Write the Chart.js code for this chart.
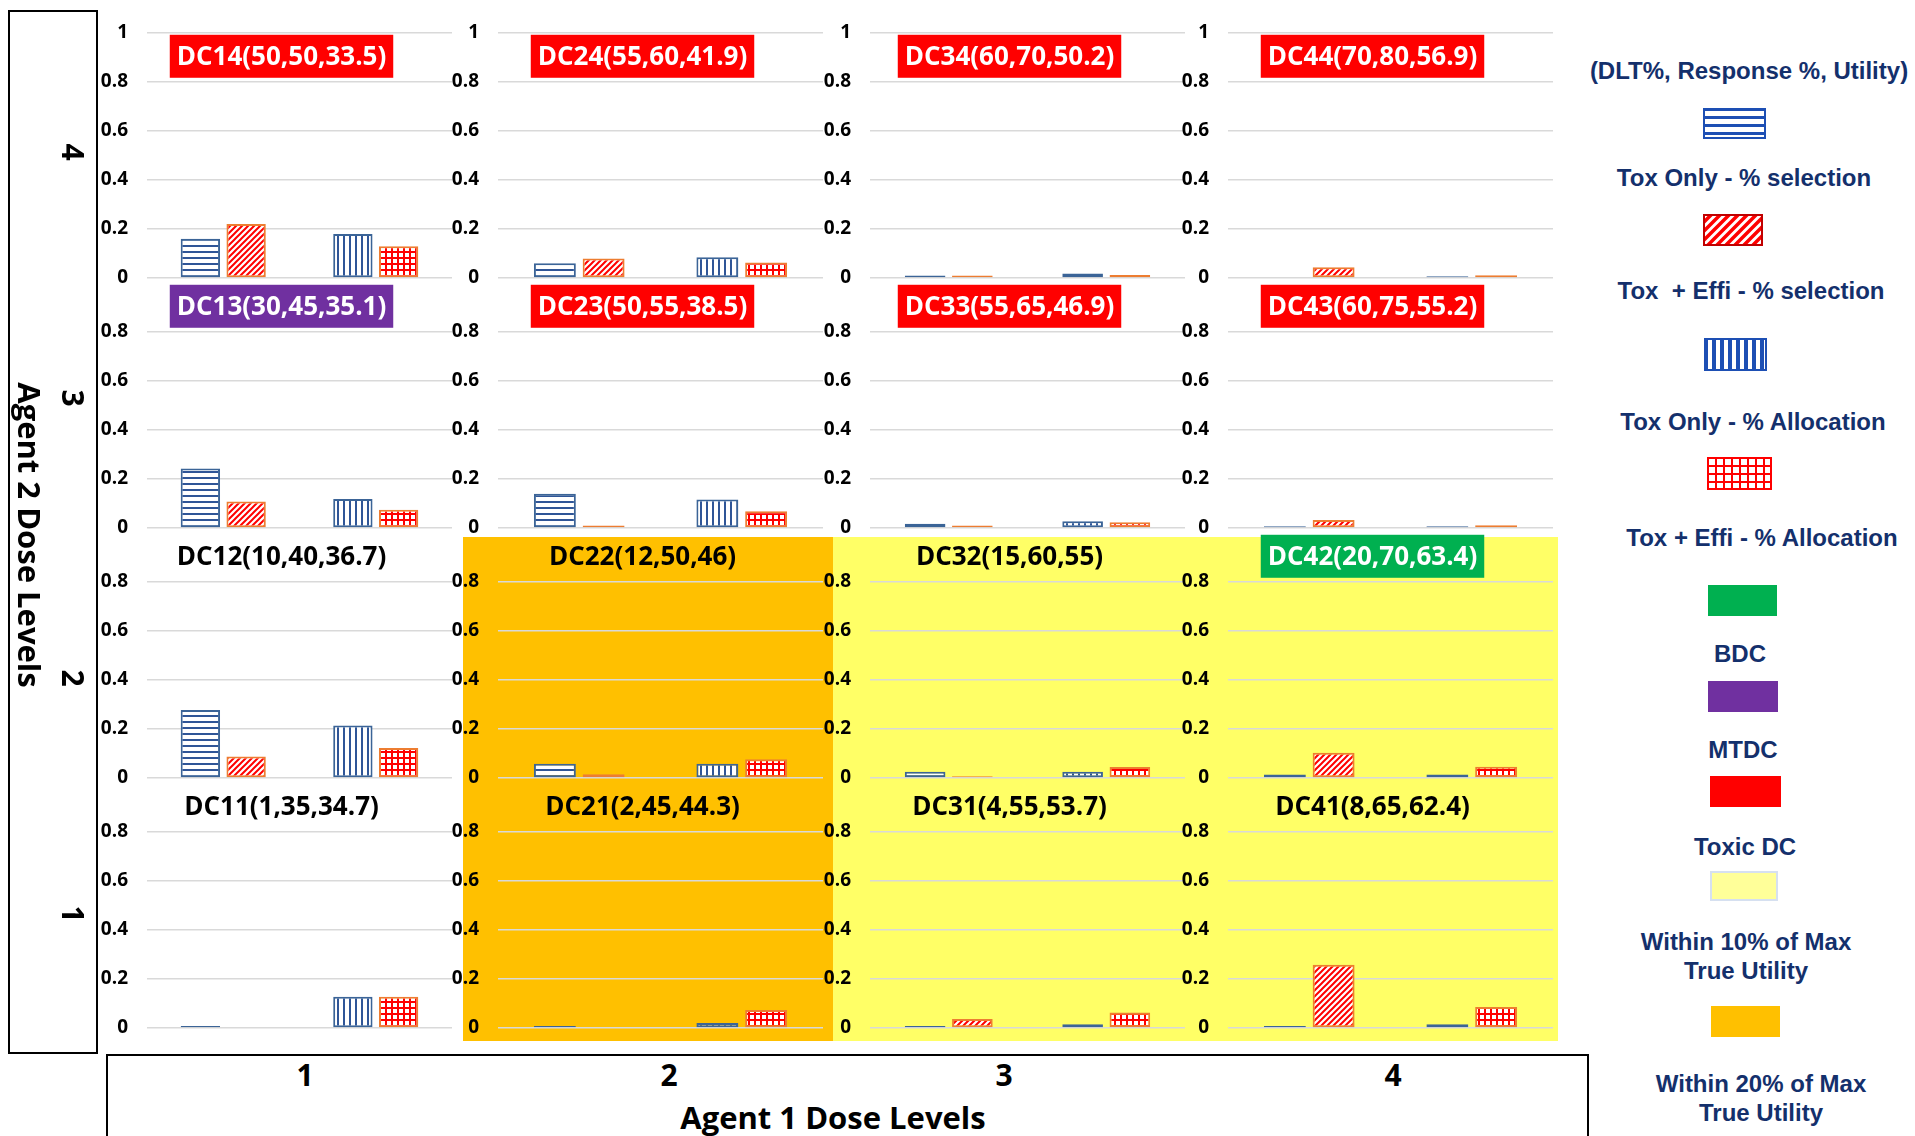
<!DOCTYPE html>
<html lang="en">
<head>
<meta charset="UTF-8">
<title>Dose combination grid</title>
<style>
  body {margin: 0; background: #fff;}
  #wrap {position: relative; width: 1915px; height: 1136px; overflow: hidden; background: #fff;}
  .abs {position: absolute;}
  .zone {position: absolute; z-index: 0;}
  canvas.cell {position: absolute; z-index: 1;}
  .txt {position: absolute; z-index: 2; transform: translate(-50%, -50%); white-space: nowrap; font-weight: 700;}
  .ax {font-family: "Open Sans", sans-serif; color: #000;}
  .rot {transform: translate(-50%, -50%) rotate(90deg);}
  .leg {font-family: "Liberation Sans", Arial, sans-serif; font-size: 24px; line-height: 29px; color: #14306C; text-align: center;}
  .box {position: absolute; border: 2px solid #000; z-index: 2;}
</style>
</head>
<body>
<div id="wrap"></div>

<script src="https://cdn.jsdelivr.net/npm/chart.js@4.4.0/dist/chart.umd.min.js"></script>
<script>
// rows = agent 2 dose level (top 4 -> bottom 1), cols = agent 1 dose level 1..4
const agent1Levels = ['1', '2', '3', '4'];
const agent2Levels = ['4', '3', '2', '1'];
const barGroups = ['% selection', '% allocation'];

const dcLabels = [
    ['DC14(50,50,33.5)', 'DC24(55,60,41.9)', 'DC34(60,70,50.2)', 'DC44(70,80,56.9)'],
    ['DC13(30,45,35.1)', 'DC23(50,55,38.5)', 'DC33(55,65,46.9)', 'DC43(60,75,55.2)'],
    ['DC12(10,40,36.7)', 'DC22(12,50,46)', 'DC32(15,60,55)', 'DC42(20,70,63.4)'],
    ['DC11(1,35,34.7)', 'DC21(2,45,44.3)', 'DC31(4,55,53.7)', 'DC41(8,65,62.4)']
];
const dcStatus = [
    ['toxic', 'toxic', 'toxic', 'toxic'],
    ['mtdc', 'toxic', 'toxic', 'toxic'],
    ['', '', '', 'bdc'],
    ['', '', '', '']
];
const dcZone = [
    ['', '', '', ''],
    ['', '', '', ''],
    ['', 'w20', 'w10', 'w10'],
    ['', 'w20', 'w10', 'w10']
];

// proportions
const toxOnlySel   = [[0.16, 0.06, 0.01, 0], [0.243, 0.14, 0.017, 0.007], [0.278, 0.058, 0.026, 0.014], [0.008, 0.008, 0.008, 0.008]];
const toxEffiSel   = [[0.22, 0.08, 0.01, 0.044], [0.108, 0.01, 0.01, 0.033], [0.088, 0.015, 0.007, 0.103], [0, 0, 0.037, 0.258]];
const toxOnlyAlloc = [[0.18, 0.085, 0.018, 0.007], [0.118, 0.116, 0.028, 0.007], [0.214, 0.058, 0.026, 0.014], [0.128, 0.02, 0.015, 0.015]];
const toxEffiAlloc = [[0.13, 0.063, 0.012, 0.011], [0.074, 0.068, 0.023, 0.011], [0.122, 0.077, 0.045, 0.046], [0.128, 0.073, 0.063, 0.086]];
const yTicks = [0, 0.2, 0.4, 0.6, 0.8, 1];

// layout
const colGrid = [[147, 452], [498, 823], [870, 1185], [1228, 1553]];
const colEdge = [100, 463, 833, 1193, 1558];
const rowZero = [278, 528, 778, 1028];
const unitPx = 245;
const statusColor = {toxic: '#FF0000', mtdc: '#7030A0', bdc: '#00B050'};
const zoneColor = {w10: '#FFFF66', w20: '#FFC000'};

const wrap = document.getElementById('wrap');

function makePattern(kind, color, step, lw) {
    const t = document.createElement('canvas');
    t.width = step; t.height = step;
    const g = t.getContext('2d');
    g.fillStyle = '#fff';
    g.fillRect(0, 0, step, step);
    g.fillStyle = color;
    g.strokeStyle = color;
    g.lineWidth = lw;
    if (kind === 'h' || kind === 'grid') g.fillRect(0, 0, step, lw);
    if (kind === 'v' || kind === 'grid') g.fillRect(0, 0, lw, step);
    if (kind === 'diag') {
        g.beginPath();
        g.moveTo(-1, step + 1); g.lineTo(step + 1, -1);
        g.moveTo(-2, 2); g.lineTo(2, -2);
        g.moveTo(step - 2, step + 2); g.lineTo(step + 2, step - 2);
        g.stroke();
    }
    return g.createPattern(t, 'repeat');
}

const blueEdge = '#3B6497';
const orangeEdge = '#ED7D31';
const patH = makePattern('h', '#2F5597', 6, 2);
const patV = makePattern('v', '#2F5597', 6, 2);
const patD = makePattern('diag', '#FF0000', 6, 2);
const patG = makePattern('grid', '#FF0000', 6, 2);

const labelPlugin = {
    id: 'dcLabel',
    afterDatasetsDraw(chart, args, opts) {
        const {ctx, chartArea, scales} = chart;
        const cx = (chartArea.left + chartArea.right) / 2 - 18;
        const cy = scales.y.getPixelForValue(0.905);
        ctx.save();
        ctx.font = 'bold 26px "Open Sans"';
        const w = ctx.measureText(opts.text).width;
        if (opts.fill) {
            ctx.fillStyle = opts.fill;
            ctx.fillRect(cx - w / 2 - 7, cy - 21.5, w + 14, 43);
        }
        ctx.fillStyle = opts.fill ? '#fff' : '#000';
        ctx.textAlign = 'center';
        ctx.textBaseline = 'middle';
        ctx.fillText(opts.text, cx, cy + 1);
        ctx.restore();
    }
};

// background zones (within 10% / 20% of max utility)
for (let r = 0; r < 4; r++) {
    for (let c = 0; c < 4; c++) {
        if (!dcZone[r][c]) continue;
        const z = document.createElement('div');
        z.className = 'zone';
        z.style.left = colEdge[c] + 'px';
        z.style.width = (colEdge[c + 1] - colEdge[c]) + 'px';
        z.style.top = (rowZero[r] - 241) + 'px';
        z.style.height = (254) + 'px';
        z.style.background = zoneColor[dcZone[r][c]];
        wrap.appendChild(z);
    }
}

function makeCell(r, c) {
    const axisW = 56, padT = 16, padB = 14;
    const [gl, gr] = colGrid[c];
    const cv = document.createElement('canvas');
    cv.className = 'cell';
    cv.width = axisW + (gr - gl);
    cv.height = padT + unitPx + padB;
    cv.style.left = (gl - axisW) + 'px';
    cv.style.top = (rowZero[r] - unitPx - padT) + 'px';
    wrap.appendChild(cv);

    const barOpts = {borderWidth: 2, borderSkipped: false, categoryPercentage: 0.6, barPercentage: 0.86};
    new Chart(cv, {
        type: 'bar',
        data: {
            labels: barGroups,
            datasets: [
                Object.assign({label: 'Tox Only', data: [toxOnlySel[r][c], toxOnlyAlloc[r][c]],
                    backgroundColor: [patH, patV], borderColor: blueEdge}, barOpts),
                Object.assign({label: 'Tox + Effi', data: [toxEffiSel[r][c], toxEffiAlloc[r][c]],
                    backgroundColor: [patD, patG], borderColor: orangeEdge}, barOpts)
            ]
        },
        options: {
            responsive: false,
            animation: false,
            events: [],
            layout: {autoPadding: false, padding: {top: padT, bottom: padB, left: 0, right: 0}},
            plugins: {
                legend: {display: false},
                tooltip: {enabled: false},
                dcLabel: {text: dcLabels[r][c], fill: statusColor[dcStatus[r][c]] || null}
            },
            scales: {
                x: {display: false},
                y: {
                    min: 0, max: 1,
                    // fixed axis width, and no extra label padding so the plot keeps its full height
                    afterFit: s => { s.width = axisW; s.paddingTop = 0; s.paddingBottom = 0; },
                    afterBuildTicks: s => { s.ticks = yTicks.map(v => ({value: v})); },
                    border: {display: false},
                    grid: {
                        drawTicks: false,
                        lineWidth: 1.5,
                        color: ctx => (r > 0 && ctx.tick && ctx.tick.value === 1) ? 'rgba(0,0,0,0)' : '#D9D9D9'
                    },
                    ticks: {
                        padding: 19,
                        color: '#000',
                        font: {family: 'Open Sans', weight: 'bold', size: 19},
                        callback: v => (r > 0 && v === 1) ? '' : String(v)
                    }
                }
            }
        },
        plugins: [labelPlugin]
    });
}

for (let r = 0; r < 4; r++) for (let c = 0; c < 4; c++) makeCell(r, c);

// frames and axis titles
function addDiv(cls, html, style) {
    const d = document.createElement('div');
    d.className = cls;
    d.innerHTML = html;
    Object.assign(d.style, style);
    wrap.appendChild(d);
    return d;
}
addDiv('box', '', {left: '8px', top: '10px', width: '86px', height: '1040px'});
addDiv('box', '', {left: '106px', top: '1054px', width: '1479px', height: '120px'});

const rowNumY = [152, 398, 678, 914];
agent2Levels.forEach((t, i) => addDiv('txt ax rot', t, {left: '73px', top: rowNumY[i] + 'px', fontSize: '30px'}));
addDiv('txt ax rot', 'Agent 2 Dose Levels', {left: '30px', top: '535px', fontSize: '31px'});

const colNumX = [305, 669, 1004, 1393];
agent1Levels.forEach((t, i) => addDiv('txt ax', t, {left: colNumX[i] + 'px', top: '1074px', fontSize: '30px'}));
addDiv('txt ax', 'Agent 1 Dose Levels', {left: '833px', top: '1117px', fontSize: '31px'});

// legend
function swatch(x, y, w, h, fill, edge) {
    const cv = document.createElement('canvas');
    cv.className = 'abs';
    cv.width = w; cv.height = h;
    cv.style.left = x + 'px'; cv.style.top = y + 'px';
    const g = cv.getContext('2d');
    g.fillStyle = fill;
    g.fillRect(0, 0, w, h);
    if (edge) {
        g.strokeStyle = edge;
        g.lineWidth = 2;
        g.strokeRect(1, 1, w - 2, h - 2);
    }
    wrap.appendChild(cv);
}
swatch(1703, 108, 63, 31, makePattern('h', '#1D4FB4', 8, 3), '#1D4FB4');
swatch(1703, 214, 60, 32, makePattern('diag', '#FF0000', 9, 3.5), '#C00000');
swatch(1704, 338, 63, 33, makePattern('v', '#1D4FB4', 8, 4), '#1D4FB4');
swatch(1707, 457, 65, 33, makePattern('grid', '#FF0000', 8, 2), '#FF0000');
swatch(1708, 585, 69, 31, '#00B050');
swatch(1708, 681, 70, 31, '#7030A0');
swatch(1710, 776, 71, 31, '#FF0000');
swatch(1710, 871, 68, 30, '#FFFF99', '#D6E0F0');
swatch(1711, 1006, 69, 31, '#FFC000');

const legendText = [
    ['(DLT%, Response %, Utility)', 1749, 70],
    ['Tox Only - % selection', 1744, 177],
    ['Tox &nbsp;+ Effi - % selection', 1751, 290],
    ['Tox Only - % Allocation', 1753, 421],
    ['Tox + Effi - % Allocation', 1762, 537],
    ['BDC', 1740, 653],
    ['MTDC', 1743, 749],
    ['Toxic DC', 1745, 846],
    ['Within 10% of Max<br>True Utility', 1746, 956],
    ['Within 20% of Max<br>True Utility', 1761, 1098]
];
legendText.forEach(([t, x, y]) => addDiv('txt leg', t, {left: x + 'px', top: y + 'px'}));
</script>
</body>
</html>
